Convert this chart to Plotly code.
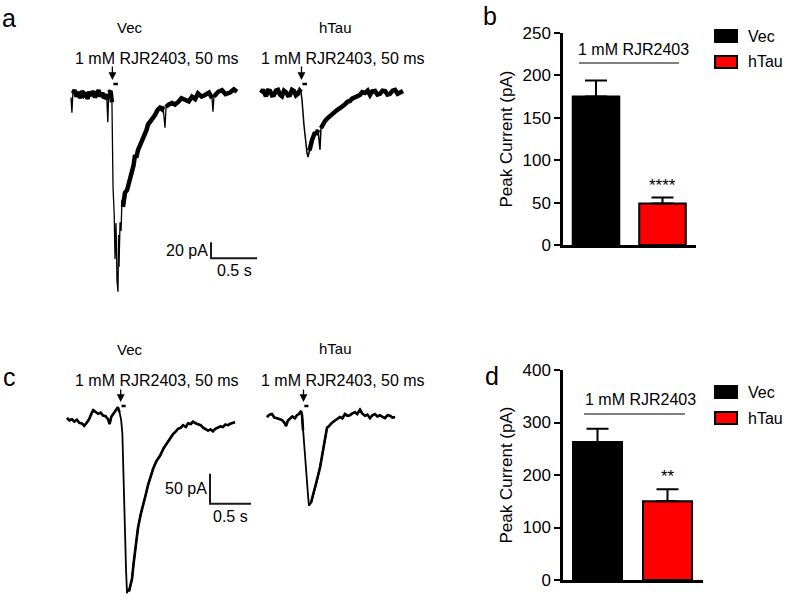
import plotly.graph_objects as go

W, H = 787, 600
FONT = "Liberation Sans, Arial, sans-serif"

# ---------------- data ----------------
BAR_GROUPS = ["Vec", "hTau"]
BAR_COLORS = ["#000000", "#ff0000"]
B_MEANS = [175, 49]
B_SEM = [19, 7]
D_MEANS = [263, 150]
D_SEM = [25, 23]
B_SIG = "****"
D_SIG = "**"
B_TICKS = [0, 50, 100, 150, 200, 250]
D_TICKS = [0, 100, 200, 300, 400]
Y_TITLE = "Peak Current (pA)"
STIM_LABEL = "1 mM RJR2403, 50 ms"
BAR_LABEL = "1 mM RJR2403"
STIM_DUR = 0.05                     # s
SCALE_A = (0.5, 20)                 # s, pA
SCALE_C = (0.5, 50)                 # s, pA
# stimulus onset (s) for each trace
ONSET = {"vec_a": 0.45, "htau_a": 0.44, "vec_c": 0.655, "htau_c": 0.445}
# end of the fast (thin) part of each response, s
FAST_END = {"vec_a": 0.56, "htau_a": 0.52, "vec_c": 0.75, "htau_c": 0.53}

# traces: (time s, current pA)
VEC_A = [
    (0.0, -3), (0.01, -22), (0.02, 2), (0.04, 6), (0.06, -2), (0.08, 4), (0.10, -4), (0.12, 5),
    (0.14, 0), (0.16, 3), (0.18, -5), (0.20, 4), (0.22, -1), (0.24, 5), (0.26, -3), (0.28, 2),
    (0.30, 6), (0.32, -2), (0.34, 3), (0.36, -4), (0.38, 1), (0.39, -6), (0.40, -34), (0.41, 3),
    (0.43, 5), (0.445, -9), (0.457, -116), (0.47, -150), (0.478, -205), (0.489, -160),
    (0.50, -232), (0.511, -246), (0.517, -175), (0.522, -215), (0.533, -159), (0.544, -170),
    (0.554, -131), (0.565, -140), (0.587, -122), (0.609, -119), (0.63, -110), (0.641, -106),
    (0.663, -96), (0.68, -88), (0.696, -75), (0.71, -78), (0.728, -69), (0.75, -63), (0.772, -59),
    (0.79, -55), (0.804, -50), (0.82, -44), (0.837, -37), (0.86, -34), (0.88, -31), (0.90, -27),
    (0.913, -25), (0.94, -19), (0.967, -16), (0.99, -18), (1.0, -14), (1.022, -41), (1.033, -15),
    (1.06, -12), (1.098, -10), (1.13, -12), (1.163, -9), (1.20, -4), (1.239, -6), (1.28, -8),
    (1.315, -2), (1.35, -5), (1.38, 2), (1.42, -2), (1.457, 0), (1.50, 3), (1.533, -4),
    (1.543, -21), (1.554, -2), (1.60, 4), (1.641, 6), (1.68, 1), (1.728, 3), (1.77, 7), (1.804, 4),
]
HTAU_A = [
    (0.0, 0), (0.022, 4), (0.054, -4), (0.076, 3), (0.098, 2.5), (0.12, -3), (0.141, -2.5),
    (0.163, 3), (0.185, 4), (0.206, -2), (0.228, -4), (0.25, 3), (0.272, 1), (0.293, -3),
    (0.315, -2.5), (0.337, 4), (0.359, 2.5), (0.38, -3), (0.402, -1), (0.42, 3), (0.435, 1),
    (0.446, -9), (0.467, -40), (0.489, -65), (0.50, -75), (0.511, -80), (0.522, -72),
    (0.533, -69), (0.554, -59), (0.57, -55), (0.587, -49), (0.60, -52), (0.62, -46), (0.641, -71),
    (0.652, -44), (0.674, -39), (0.696, -35), (0.728, -31), (0.761, -27.5), (0.78, -26),
    (0.804, -24), (0.83, -21), (0.859, -19), (0.89, -15), (0.913, -14), (0.94, -11), (0.967, -10),
    (0.99, -7), (1.022, -5), (1.05, -3), (1.076, -2.5), (1.10, 1), (1.13, 0), (1.16, 3),
    (1.185, -2.5), (1.21, 2), (1.239, 2.5), (1.265, -2), (1.293, -1), (1.32, 3), (1.348, 2.5),
    (1.375, -2), (1.402, -1), (1.43, 3), (1.457, 4), (1.485, -1), (1.511, 0), (1.543, 2.5),
]
VEC_C = [
    (0.0, 0), (0.03, -4), (0.06, -2), (0.09, -6), (0.12, -3), (0.15, -8), (0.18, -9), (0.21, -13),
    (0.24, -8), (0.27, -2), (0.30, 8), (0.32, 13), (0.35, 10), (0.38, 7), (0.41, 9), (0.44, 4),
    (0.47, 3), (0.50, -2), (0.52, -10), (0.54, 2), (0.57, 8), (0.60, 15), (0.62, 18), (0.64, 10),
    (0.66, -3), (0.675, -25), (0.695, -137), (0.72, -253), (0.732, -292), (0.745, -285),
    (0.756, -289), (0.775, -278), (0.793, -268), (0.81, -245), (0.829, -223), (0.85, -200),
    (0.866, -183), (0.90, -160), (0.927, -147), (0.96, -128), (0.988, -112), (1.02, -97),
    (1.049, -85), (1.09, -72), (1.134, -63), (1.18, -50), (1.22, -42), (1.26, -33), (1.293, -27),
    (1.33, -22), (1.354, -18), (1.39, -16), (1.415, -12), (1.45, -15), (1.476, -9), (1.51, -10),
    (1.537, -6), (1.57, -9), (1.598, -11), (1.63, -12), (1.659, -16), (1.69, -18), (1.72, -21),
    (1.75, -19), (1.78, -22), (1.81, -18), (1.841, -16), (1.87, -14), (1.902, -15), (1.93, -11),
    (1.963, -12), (2.0, -9), (2.049, -7),
]
HTAU_C = [
    (0.0, 0), (0.03, 4), (0.061, 5), (0.09, -1), (0.122, -2), (0.15, -4), (0.183, -5),
    (0.21, -9), (0.232, -15), (0.255, -6), (0.28, -3), (0.31, 1), (0.341, -2), (0.365, 3),
    (0.39, 5), (0.415, 10), (0.427, 3), (0.439, -22), (0.463, -63), (0.488, -105), (0.50, -130),
    (0.512, -148), (0.525, -145), (0.537, -143), (0.561, -130), (0.58, -122), (0.598, -113),
    (0.62, -100), (0.646, -85), (0.665, -70), (0.683, -55), (0.707, -35), (0.732, -18),
    (0.75, -16), (0.768, -13), (0.79, -10), (0.817, -7), (0.85, -4), (0.89, 0), (0.92, -2),
    (0.951, 5), (0.98, 2), (1.012, 3), (1.04, 6), (1.073, 8), (1.10, 5), (1.134, 12),
    (1.16, 6), (1.195, 2), (1.225, 4), (1.256, -2), (1.285, 3), (1.317, 5), (1.345, 1),
    (1.378, 3), (1.41, 0), (1.439, -2), (1.47, 3), (1.50, 2), (1.53, -1), (1.561, 0),
]

# ---------------- layout helpers (pixel -> paper) ----------------
def px(x):
    return x / W


def py(y):
    return 1 - y / H


def trace_axes(xd, yd, t0, i0, sx, sy):
    """axis domains/ranges so that t=0 sits at pixel t0, I=0 at pixel row i0."""
    xa = dict(domain=[px(xd[0]), px(xd[1])], range=[(xd[0] - t0) / sx, (xd[1] - t0) / sx],
              visible=False, fixedrange=True, automargin=False)
    ya = dict(domain=[py(yd[1]), py(yd[0])], range=[-(yd[1] - i0) / sy, -(yd[0] - i0) / sy],
              visible=False, fixedrange=True, automargin=False)
    return xa, ya


def is_spike(cs, k, thr=14):
    win = sorted(cs[max(0, k - 2):k + 3])
    med = win[len(win) // 2]
    return abs(cs[k] - med) > thr


fig = go.Figure()
layout = dict(width=W, height=H,
              margin=dict(l=0, r=0, t=0, b=0, pad=0, autoexpand=False), autosize=False,
              paper_bgcolor="white", plot_bgcolor="rgba(0,0,0,0)",
              showlegend=False, font=dict(family=FONT, color="black", size=16))

# trace panel axes: 3/4 = panel a (Vec, hTau), 5/6 = panel c (Vec, hTau)
SX_A, SY_A = 92, 0.8
SX_C, SY_C = 82, 0.6
# key: axes, x-domain px, y-domain px, t0 px, I0 px, scales, data, thin width, band width
panels = {
    "vec_a": ("x3", "y3", (60, 262), (60, 300), 71, 95, SX_A, SY_A, VEC_A, 1.3, 4.5),
    "htau_a": ("x4", "y4", (258, 420), (60, 300), 261, 93, SX_A, SY_A, HTAU_A, 1.5, 4.5),
    "vec_c": ("x5", "y5", (55, 262), (380, 600), 67, 418, SX_C, SY_C, VEC_C, 1.8, 2.6),
    "htau_c": ("x6", "y6", (262, 410), (380, 600), 267, 417, SX_C, SY_C, HTAU_C, 1.8, 2.6),
}
for key, (xn, yn, xd, yd, t0, i0, sx, sy, data, lw, bw) in panels.items():
    xa, ya = trace_axes(xd, yd, t0, i0, sx, sy)
    ya["anchor"] = xn
    xa["anchor"] = yn
    layout["xaxis" + xn[1:]] = xa
    layout["yaxis" + yn[1:]] = ya
    ts = [d[0] for d in data]
    cs = [d[1] for d in data]
    # thin full trace
    fig.add_trace(go.Scatter(x=ts, y=cs, mode="lines", line=dict(color="black", width=lw),
                             xaxis=xn, yaxis=yn, hoverinfo="skip"))
    # noisy band (thicker) before the response and during the slow recovery, spikes stay thin
    on, fe = ONSET[key], FAST_END[key]
    keep = [((t <= on - 0.005) or (t >= fe)) and not is_spike(cs, k) for k, t in enumerate(ts)]
    bx = [t if kp else None for t, kp in zip(ts, keep)]
    by = [c if kp else None for c, kp in zip(cs, keep)]
    fig.add_trace(go.Scatter(x=bx, y=by, mode="lines", connectgaps=False,
                             line=dict(color="black", width=bw), xaxis=xn, yaxis=yn,
                             hoverinfo="skip"))

annotations = []
shapes = []

# stimulus arrows, labels and 50 ms bars
for key, arr_y0, arr_y1, dash_y in [
    ("vec_a", 65, 80, 84), ("htau_a", 65, 80, 84),
    ("vec_c", 388, 402, 406), ("htau_c", 388, 402, 406),
]:
    xn = panels[key][0]
    t = ONSET[key]
    annotations.append(dict(x=t, y=py(arr_y1), xref=xn, yref="paper", text="", showarrow=True,
                            ax=0, ay=-(arr_y1 - arr_y0), arrowhead=2, arrowsize=1.2,
                            arrowwidth=1.3, arrowcolor="black"))
    shapes.append(dict(type="line", xref=xn, yref="paper", x0=t + 0.01, x1=t + 0.01 + STIM_DUR,
                       y0=py(dash_y), y1=py(dash_y), line=dict(color="black", width=2.5)))

for cx, cy in [(156.5, 58), (342.5, 58), (156.5, 380), (342.5, 380)]:
    annotations.append(dict(x=px(cx), y=py(cy), xref="paper", yref="paper", text=STIM_LABEL,
                            showarrow=False, font=dict(size=16), xanchor="center", yanchor="middle"))
for cx, cy, txt in [(130, 28, "Vec"), (335, 27, "hTau"), (130, 349, "Vec"), (335, 348, "hTau")]:
    annotations.append(dict(x=px(cx), y=py(cy), xref="paper", yref="paper", text=txt,
                            showarrow=False, font=dict(size=15), xanchor="center", yanchor="middle"))

# scale bars
for xn, yn, (tsc, il), pos in [("x3", "y3", SCALE_A, (1.522, -204)),
                               ("x5", "y5", SCALE_C, (1.744, -143))]:
    t, i = pos
    fig.add_trace(go.Scatter(x=[t, t, t + tsc], y=[i + il, i, i], mode="lines",
                             line=dict(color="#1a1a1a", width=2), xaxis=xn, yaxis=yn,
                             hoverinfo="skip"))
    annotations.append(dict(x=t, y=i + il / 2, xref=xn, yref=yn, text=f"{il} pA",
                            showarrow=False, xanchor="right", yanchor="middle", xshift=-1,
                            font=dict(size=16)))
    annotations.append(dict(x=t + tsc / 2, y=i, xref=xn, yref=yn, text=f"{tsc} s",
                            showarrow=False, xanchor="center", yanchor="top", yshift=-2,
                            font=dict(size=16)))

# ---------------- bar charts ----------------
def bar_axes(xd, yd, centers, ymax, ticks):
    c0, c1 = centers
    unit = c1 - c0
    xa = dict(domain=[px(xd[0]), px(xd[1])], range=[(xd[0] - c0) / unit, (xd[1] - c0) / unit],
              showline=True, linecolor="black", linewidth=2.5, ticks="", showticklabels=False,
              showgrid=False, zeroline=False, fixedrange=True, type="category",
              categoryorder="array", categoryarray=BAR_GROUPS, automargin=False)
    ya = dict(domain=[py(yd[1]), py(yd[0])], range=[0, ymax], tickvals=ticks,
              showline=True, linecolor="black", linewidth=2.5, ticks="outside", ticklen=6,
              tickwidth=2, tickcolor="black", tickfont=dict(size=17), showgrid=False,
              zeroline=False, fixedrange=True, automargin=False,
              title=dict(text=Y_TITLE, font=dict(size=17), standoff=6))
    return xa, ya


for (xn, yn, xd, yd, centers, means, sems, ticks, sig) in [
    ("x", "y", (563, 696), (33, 245), (596, 662.5), B_MEANS, B_SEM, B_TICKS, B_SIG),
    ("x2", "y2", (563, 703), (370, 580), (597.5, 667.5), D_MEANS, D_SEM, D_TICKS, D_SIG),
]:
    xa, ya = bar_axes(xd, yd, centers, ticks[-1], ticks)
    xa["anchor"] = yn
    ya["anchor"] = xn
    layout["xaxis" + xn[1:]] = xa
    layout["yaxis" + yn[1:]] = ya
    fig.add_trace(go.Bar(x=BAR_GROUPS, y=means, width=0.7, xaxis=xn, yaxis=yn,
                         marker=dict(color=BAR_COLORS, line=dict(color="black", width=2)),
                         error_y=dict(type="data", symmetric=False, array=sems,
                                      arrayminus=[0] * len(sems), color="black",
                                      thickness=2, width=11),
                         hoverinfo="skip"))
    annotations.append(dict(x=BAR_GROUPS[1], y=means[1] + sems[1], xref=xn, yref=yn, text=sig,
                            showarrow=False, yanchor="bottom", xanchor="center", yshift=1,
                            font=dict(size=17)))

# bar group label + line
for cx, cy, lx0, lx1, ly in [(633, 49, 579, 679, 63), (640, 399, 584, 685, 414)]:
    annotations.append(dict(x=px(cx), y=py(cy), xref="paper", yref="paper", text=BAR_LABEL,
                            showarrow=False, xanchor="center", yanchor="middle",
                            font=dict(size=16)))
    shapes.append(dict(type="line", xref="paper", yref="paper", x0=px(lx0), x1=px(lx1),
                       y0=py(ly), y1=py(ly), line=dict(color="black", width=1)))

# legends
for top in (30, 386):
    for k, (name, col) in enumerate(zip(BAR_GROUPS, BAR_COLORS)):
        y0 = top + 26 * k
        shapes.append(dict(type="rect", xref="paper", yref="paper", x0=px(715), x1=px(737),
                           y0=py(y0 + 12), y1=py(y0), fillcolor=col,
                           line=dict(color="black", width=2)))
        annotations.append(dict(x=px(746), y=py(y0 + 6), xref="paper", yref="paper", text=name,
                                showarrow=False, xanchor="left", yanchor="middle",
                                font=dict(size=16)))

# panel letters
for cx, cy, letter in [(9, 18, "a"), (490, 16, "b"), (9, 377, "c"), (492, 376, "d")]:
    annotations.append(dict(x=px(cx), y=py(cy), xref="paper", yref="paper", text=letter,
                            showarrow=False, xanchor="center", yanchor="middle",
                            font=dict(size=25)))

layout["annotations"] = annotations
layout["shapes"] = shapes
fig.update_layout(**layout)

PIN = ("var h=document.documentElement,b=document.body;"
       "h.style.margin='0';h.style.padding='0';h.style.overflow='hidden';"
       "b.style.margin='0';b.style.padding='0';b.style.overflow='hidden';"
       "var g=document.getElementById('{plot_id}');"
       "g.style.position='fixed';g.style.left='0px';g.style.top='0px';")
fig.write_html("out.html", config={"displayModeBar": False, "responsive": False},
               post_script=PIN)
